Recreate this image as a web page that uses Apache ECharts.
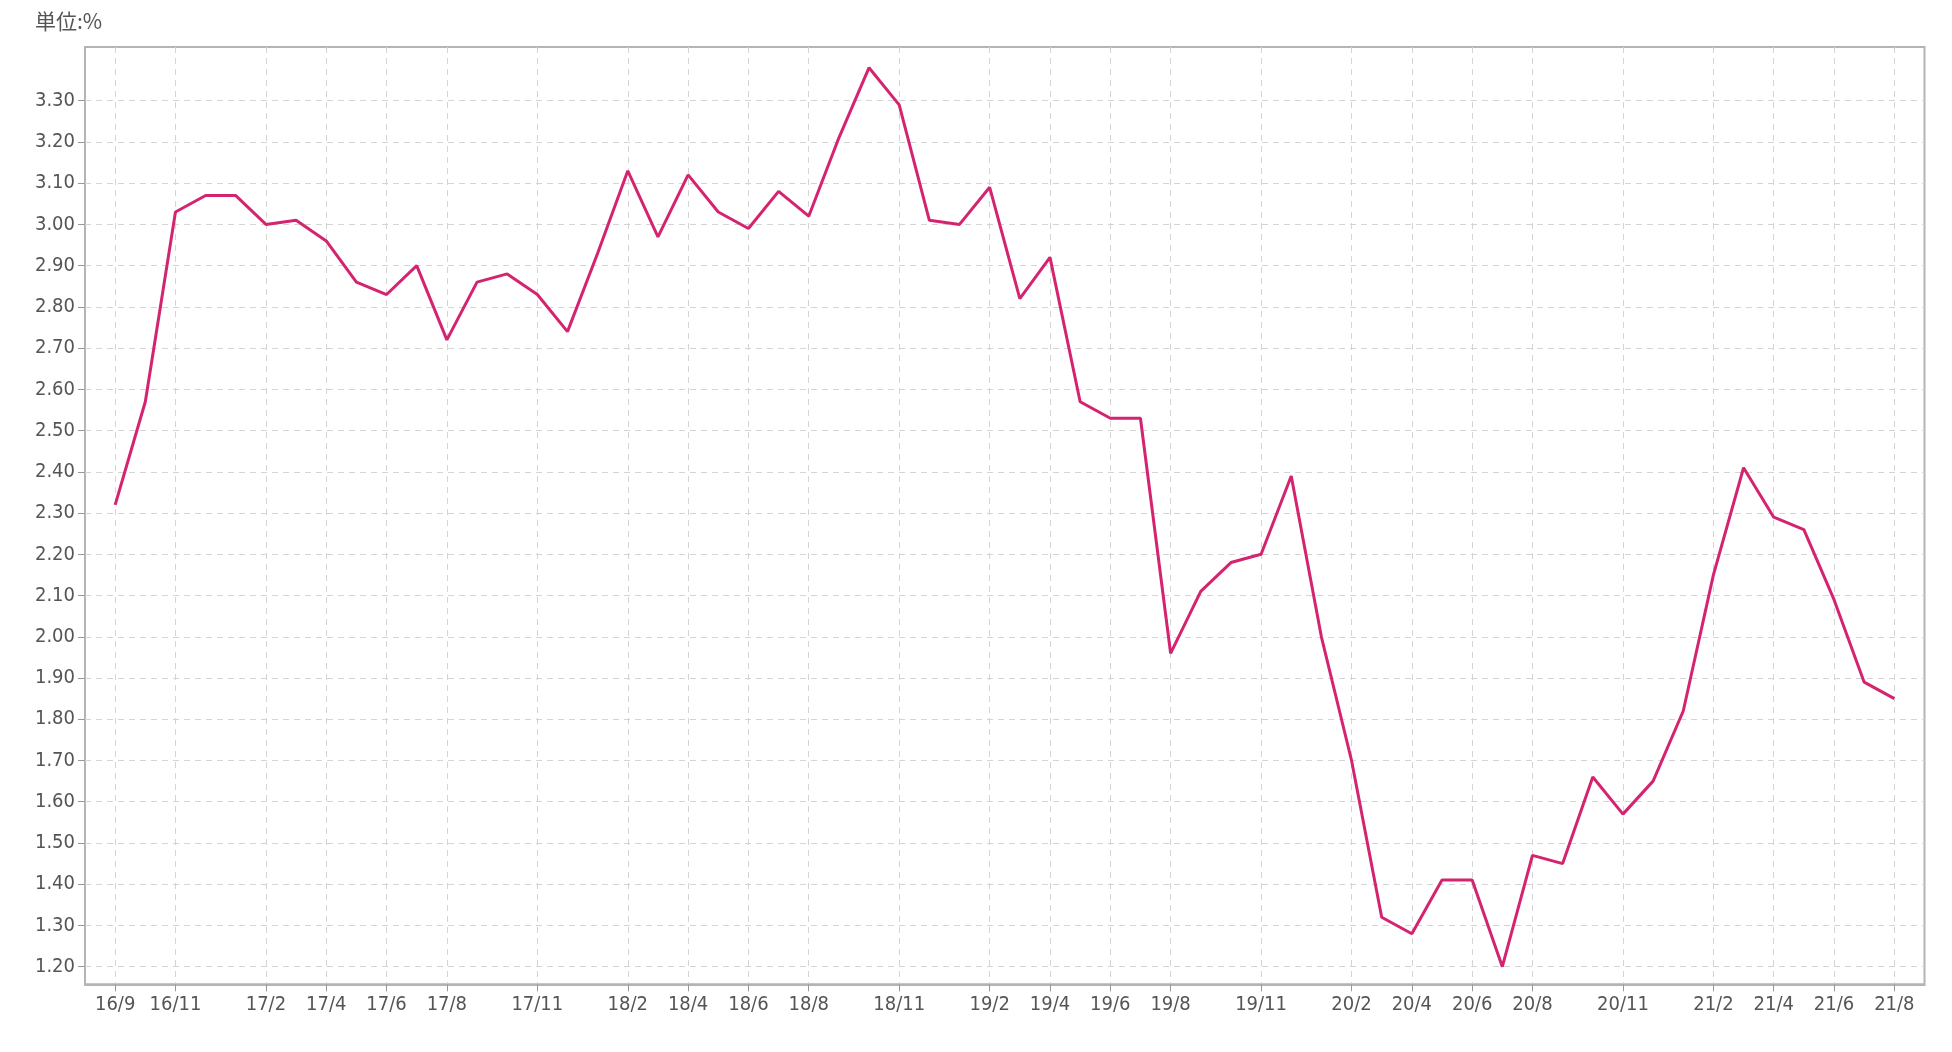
<!DOCTYPE html>
<html>
<head>
<meta charset="utf-8">
<script src="https://cdn.jsdelivr.net/npm/echarts@6/dist/echarts.min.js"></script>
<style>
html,body{margin:0;padding:0;background:#ffffff;}
#chart{width:1952px;height:1052px;}
</style>
</head>
<body>
<div id="chart"></div>
<script>
// ---- data ----
const unitLabel = '単位:%';

const months = [
  '16/9','16/10','16/11','16/12',
  '17/1','17/2','17/3','17/4','17/5','17/6','17/7','17/8','17/9','17/10','17/11','17/12',
  '18/1','18/2','18/3','18/4','18/5','18/6','18/7','18/8','18/9','18/10','18/11','18/12',
  '19/1','19/2','19/3','19/4','19/5','19/6','19/7','19/8','19/9','19/10','19/11','19/12',
  '20/1','20/2','20/3','20/4','20/5','20/6','20/7','20/8','20/9','20/10','20/11','20/12',
  '21/1','21/2','21/3','21/4','21/5','21/6','21/7','21/8'
];

const labeledMonths = [
  '16/9','16/11','17/2','17/4','17/6','17/8','17/11','18/2','18/4','18/6','18/8','18/11',
  '19/2','19/4','19/6','19/8','19/11','20/2','20/4','20/6','20/8','20/11','21/2','21/4','21/6','21/8'
];

const rates = [
  2.32, 2.57, 3.03, 3.07,
  3.07, 3.00, 3.01, 2.96, 2.86, 2.83, 2.90, 2.72, 2.86, 2.88, 2.83, 2.74,
  2.93, 3.13, 2.97, 3.12, 3.03, 2.99, 3.08, 3.02, 3.21, 3.38, 3.29, 3.01,
  3.00, 3.09, 2.82, 2.92, 2.57, 2.53, 2.53, 1.96, 2.11, 2.18, 2.20, 2.39,
  2.00, 1.70, 1.32, 1.28, 1.41, 1.41, 1.20, 1.47, 1.45, 1.66, 1.57, 1.65,
  1.82, 2.15, 2.41, 2.29, 2.26, 2.09, 1.89, 1.85
];

const yMin = 1.2;
const yMax = 3.3;
const yStep = 0.1;

// ---- chart ----
const LABEL_FONT = '"DejaVu Sans Condensed", "Liberation Sans Narrow", "DejaVu Sans", sans-serif';
const padCats = [' '].concat(months, ['  ']);
const seriesData = [null].concat(rates, [null]);
const isLabeled = (idx, val) => labeledMonths.indexOf(val) !== -1;

const frameColor = '#b4b4b4';
const gridDash = { color: '#d4d4d4', width: 1, type: [6, 5] };

const chart = echarts.init(document.getElementById('chart'), null, { renderer: 'canvas' });
chart.setOption({
  animation: false,
  backgroundColor: '#ffffff',
  graphic: [{
    type: 'text', left: 35, top: 11,
    style: { text: unitLabel, fontSize: 21, fill: '#555555', fontFamily: '"Noto Sans CJK JP", sans-serif' }
  }],
  grid: [
    { left: 85, right: 27.5, top: 47, bottom: 67.7, show: true, borderColor: frameColor, borderWidth: 2, backgroundColor: 'transparent' },
    { left: 85, right: 27.5, top: 100.7, bottom: 85.3 }
  ],
  xAxis: [
    {
      gridIndex: 0, type: 'category', data: padCats, boundaryGap: false,
      axisLine: { show: true, lineStyle: { color: frameColor, width: 2 } },
      axisTick: { show: true, interval: isLabeled, length: 7, lineStyle: { color: '#999999' } },
      axisLabel: { show: true, interval: isLabeled, margin: 10, fontSize: 20, color: '#555555', fontFamily: LABEL_FONT },
      splitLine: { show: true, interval: isLabeled, lineStyle: gridDash }
    },
    {
      gridIndex: 1, type: 'category', data: padCats, boundaryGap: false, show: false
    }
  ],
  yAxis: [
    { gridIndex: 0, type: 'value', show: false },
    {
      gridIndex: 1, type: 'value', min: yMin, max: yMax, interval: yStep,
      axisLine: { show: false },
      axisTick: { show: true, length: 7, lineStyle: { color: '#999999' } },
      axisLabel: { show: true, margin: 10, fontSize: 20, color: '#555555', fontFamily: LABEL_FONT,
                   formatter: v => v.toFixed(2) },
      splitLine: { show: true, lineStyle: gridDash }
    }
  ],
  series: [{
    type: 'line', xAxisIndex: 1, yAxisIndex: 1, clip: false,
    data: seriesData, showSymbol: false, symbol: 'none',
    lineStyle: { color: '#d4246f', width: 3 },
    itemStyle: { color: '#d4246f' }
  }]
});
</script>
</body>
</html>
